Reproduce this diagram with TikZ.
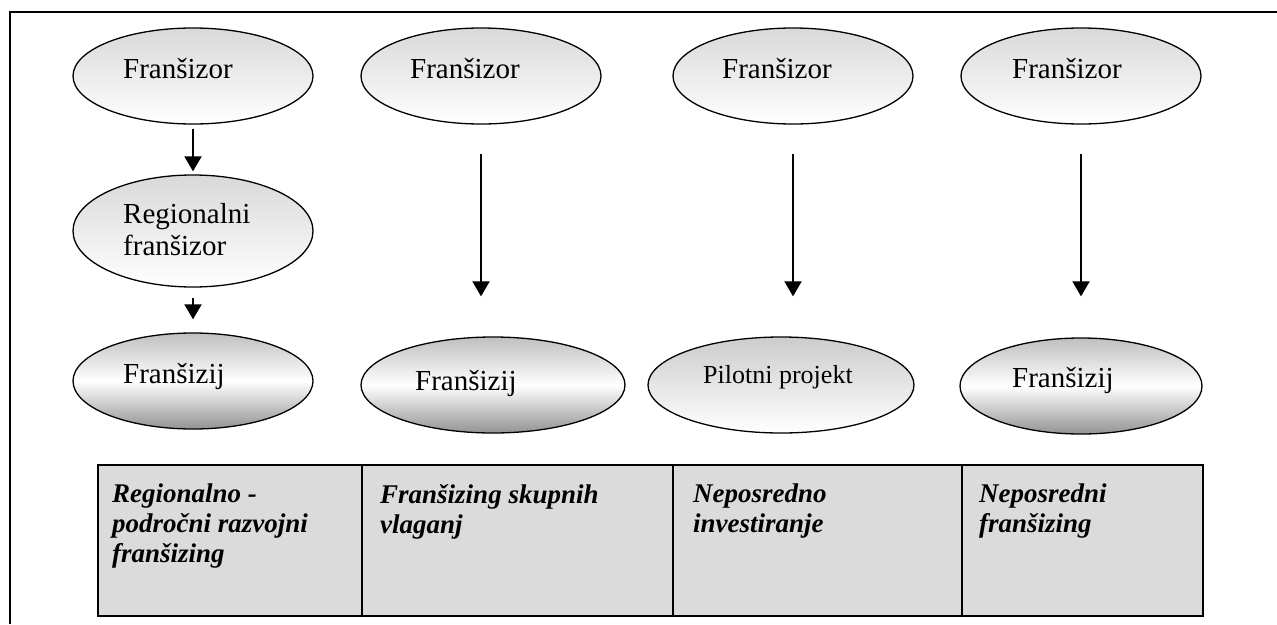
\documentclass[tikz,border=0pt]{standalone}
\usepackage{fontspec}
\setmainfont{Liberation Serif}
\usetikzlibrary{arrows.meta,shapes.geometric}

\tikzset{
  topell/.style={ellipse, draw, line width=1.3pt, inner sep=0pt, top color=gray!30, bottom color=white},
  botell/.style={ellipse, draw, line width=1.3pt, inner sep=0pt, top color=gray!50, bottom color=gray!85, middle color=white},
  lbl/.style={anchor=base west, inner sep=0pt, font=\fontsize{29}{32}\selectfont},
  cell/.style={draw, line width=2pt, fill=gray!28, anchor=north west, inner sep=0pt},
  celltxt/.style={anchor=north west, inner sep=0pt, align=left, font=\fontsize{27}{30}\selectfont\bfseries\itshape},
  arr/.style={line width=2pt, -{Triangle[width=17pt,length=15pt]}},
}

\begin{document}
\begin{tikzpicture}[x=1pt, y=-1pt]
\useasboundingbox (0,0) rectangle (1277,624);

% Frame
\draw[line width=2.5pt] (10,624) -- (10,12) -- (1277,12);

% Top row
\node[topell, minimum width=240pt, minimum height=96pt] (f1) at (193,76) {};
\node[topell, minimum width=240pt, minimum height=96pt] (f2) at (481,76) {};
\node[topell, minimum width=240pt, minimum height=96pt] (f3) at (793,76) {};
\node[topell, minimum width=240pt, minimum height=96pt] (f4) at (1081,76) {};
\node[lbl] (t1) at (123,78) {Franšizor};
\node[lbl] (t2) at (410,78) {Franšizor};
\node[lbl] (t3) at (722,78) {Franšizor};
\node[lbl] (t4) at (1012,78) {Franšizor};

% Middle row
\node[topell, minimum width=240pt, minimum height=112pt] (r1) at (193,231) {};
\node[lbl] (tr1) at (123,223) {Regionalni};
\node[lbl] (tr2) at (123,255) {franšizor};

% Bottom row
\node[botell, minimum width=240pt, minimum height=96pt] (z1) at (193,381) {};
\node[botell, minimum width=264pt, minimum height=96pt] (z2) at (493,385) {};
\node[topell, top color=gray!40, minimum width=266pt, minimum height=96pt] (p3) at (781,385) {};
\node[botell, minimum width=242pt, minimum height=96pt] (z4) at (1081,386) {};
\node[lbl] (tz1) at (123,383) {Franšizij};
\node[lbl] (tz2) at (415,390) {Franšizij};
\node[lbl, font=\fontsize{26}{30}\selectfont] (tp3) at (703,383) {Pilotni projekt};
\node[lbl] (tz4) at (1012,387) {Franšizij};

% Arrows
\draw[arr, shorten <=4pt, shorten >=3pt] (f1) -- (r1);
\draw[arr, shorten <=10pt, shorten >=13pt] (r1) -- (z1);
\draw[arr, shorten <=29pt, shorten >=40pt] (f2.south) -- (f2.south |- z2.north);
\draw[arr, shorten <=29pt, shorten >=40pt] (f3.south) -- (f3.south |- p3.north);
\draw[arr, shorten <=29pt, shorten >=41pt] (f4.south) -- (f4.south |- z4.north);

% Table
\node[cell, minimum width=264pt, minimum height=151pt] (c1) at (97,464) {};
\node[cell, minimum width=311pt, minimum height=151pt] (c2) at (361,464) {};
\node[cell, minimum width=289pt, minimum height=151pt] (c3) at (672,464) {};
\node[cell, minimum width=241pt, minimum height=151pt] (c4) at (961,464) {};
\node[celltxt] (tc1) at (112,484) {Regionalno -\\področni razvojni\\franšizing};
\node[celltxt] (tc2) at (380,484) {Franšizing skupnih\\vlaganj};
\node[celltxt] (tc3) at (693,484) {Neposredno\\investiranje};
\node[celltxt] (tc4) at (979,484) {Neposredni\\franšizing};
\end{tikzpicture}
\end{document}
